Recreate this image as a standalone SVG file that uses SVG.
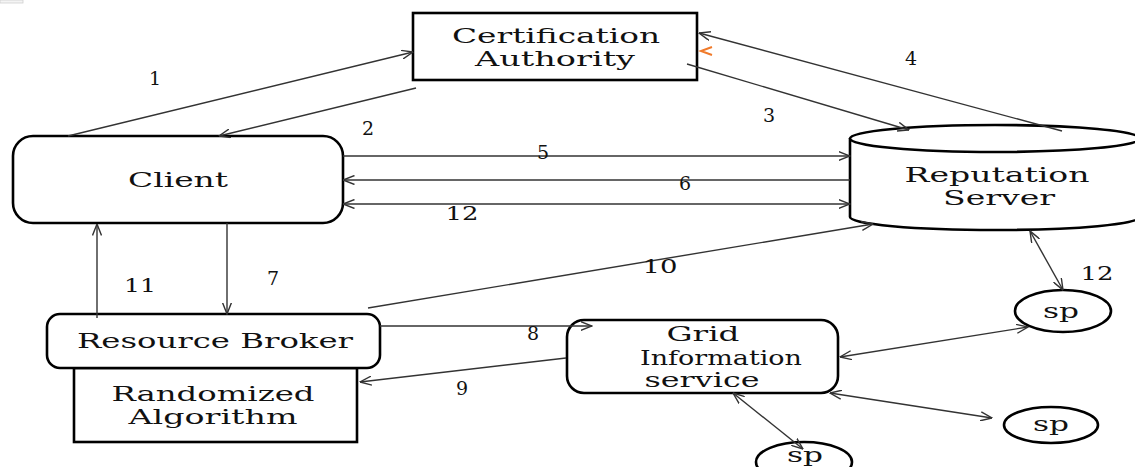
<svg xmlns="http://www.w3.org/2000/svg" width="1135" height="467" viewBox="0 0 1135 467">
  <style>
    .box { fill: #fff; stroke: #000; stroke-width: 2.6; }
    .lbl { font-family: "DejaVu Serif", "Liberation Serif", serif; font-size: 20px; fill: #111; text-anchor: middle; }
    .num { font-family: "DejaVu Serif", "Liberation Serif", serif; font-size: 19px; fill: #111; text-anchor: middle; }
    .conn line { stroke: #333; stroke-width: 1.4; fill: none; }
    .one { marker-end: url(#arr); }
    .two { marker-start: url(#arr); marker-end: url(#arr); }
  </style>
  <defs>
    <marker id="arr" viewBox="0 0 12 10" refX="11.5" refY="5" markerWidth="12" markerHeight="10" markerUnits="userSpaceOnUse" orient="auto-start-reverse">
      <path d="M0,0.5 L11.5,5 L0,9.5" fill="none" stroke="#333" stroke-width="1.4"/>
    </marker>
  </defs>
  <rect width="1135" height="467" fill="#fff"/>
  <!-- small grey tab in the corner -->
  <rect x="0" y="0" width="23" height="3" fill="#f4f4f4" stroke="#cfcfcf" stroke-width="0.8"/>

  <g id="ca">
    <rect class="box" x="413" y="13" width="284" height="67"/>
    <text class="lbl" x="556" y="43" textLength="208" lengthAdjust="spacingAndGlyphs">Certification</text>
    <text class="lbl" x="555" y="66" textLength="160" lengthAdjust="spacingAndGlyphs">Authority</text>
  </g>

  <g id="client">
    <rect class="box" x="13" y="136" width="330" height="87" rx="20" ry="20"/>
    <text class="lbl" x="178" y="187" textLength="100" lengthAdjust="spacingAndGlyphs">Client</text>
  </g>

  <g id="reputation">
    <path class="box" d="M850,138 L850,217 A145,13 0 0 0 1140,217 L1140,138"/>
    <ellipse class="box" cx="995" cy="138.5" rx="145" ry="13.5"/>
    <text class="lbl" x="997" y="182" textLength="185" lengthAdjust="spacingAndGlyphs">Reputation</text>
    <text class="lbl" x="999" y="205" textLength="112" lengthAdjust="spacingAndGlyphs">Server</text>
  </g>

  <g id="randomized">
    <rect class="box" x="74" y="368" width="283" height="74"/>
    <text class="lbl" x="213" y="401" textLength="203" lengthAdjust="spacingAndGlyphs">Randomized</text>
    <text class="lbl" x="213" y="424" textLength="169" lengthAdjust="spacingAndGlyphs">Algorithm</text>
  </g>

  <g id="broker">
    <rect class="box" x="47" y="314" width="333" height="54" rx="13" ry="13"/>
    <text class="lbl" x="215" y="348" textLength="276" lengthAdjust="spacingAndGlyphs">Resource Broker</text>
  </g>

  <g id="gis">
    <rect class="box" x="567" y="320" width="271" height="73" rx="17" ry="17"/>
    <text class="lbl" x="703" y="341" textLength="73" lengthAdjust="spacingAndGlyphs">Grid</text>
    <text class="lbl" x="721" y="365" textLength="162" lengthAdjust="spacingAndGlyphs">Information</text>
    <text class="lbl" x="702" y="387" textLength="115" lengthAdjust="spacingAndGlyphs">service</text>
  </g>

  <g id="sp1">
    <ellipse class="box" cx="1063" cy="311" rx="48" ry="21"/>
    <text class="lbl" x="1061" y="318" textLength="36" lengthAdjust="spacingAndGlyphs">sp</text>
  </g>
  <g id="sp2">
    <ellipse class="box" cx="1051" cy="425" rx="47" ry="18"/>
    <text class="lbl" x="1051" y="431" textLength="36" lengthAdjust="spacingAndGlyphs">sp</text>
  </g>
  <g id="sp3">
    <ellipse class="box" cx="804" cy="462" rx="48" ry="20"/>
    <text class="lbl" x="805" y="462" textLength="36" lengthAdjust="spacingAndGlyphs">sp</text>
  </g>

  <!-- connectors, drawn over the boxes -->
  <g id="connectors" class="conn">
    <line class="one" x1="68" y1="136" x2="413" y2="52"/>
    <line class="one" x1="416" y1="88" x2="219" y2="136"/>
    <line class="one" x1="687" y1="64" x2="909" y2="130"/>
    <line class="one" x1="1062" y1="131" x2="699" y2="33"/>
    <line class="one" x1="343" y1="156" x2="850" y2="156"/>
    <line class="one" x1="850" y1="180" x2="343" y2="180"/>
    <line class="two" x1="343" y1="204" x2="850" y2="204"/>
    <line class="one" x1="97" y1="318" x2="97" y2="224"/>
    <line class="one" x1="227" y1="223" x2="227" y2="314"/>
    <line class="one" x1="368" y1="308" x2="873" y2="224"/>
    <line class="one" x1="380" y1="326" x2="592" y2="326"/>
    <line class="one" x1="566" y1="358" x2="360" y2="382"/>
    <line class="two" x1="1030" y1="231" x2="1063" y2="290"/>
    <line class="two" x1="840" y1="357" x2="1028" y2="327"/>
    <line class="two" x1="830" y1="393" x2="992" y2="418"/>
    <line class="two" x1="733" y1="393" x2="803" y2="449"/>
    <!-- small orange chevron beside the authority box -->
    <path d="M712,47 L701,51 L712,55" fill="none" stroke="#f07a2a" stroke-width="2"/>
  </g>

  <!-- connector numbers -->
  <g id="numbers">
    <text class="num" x="155" y="85">1</text>
    <text class="num" x="368" y="135">2</text>
    <text class="num" x="769" y="122">3</text>
    <text class="num" x="911" y="65">4</text>
    <text class="num" x="543" y="159">5</text>
    <text class="num" x="685" y="190">6</text>
    <text class="num" x="462" y="220" textLength="33" lengthAdjust="spacingAndGlyphs">12</text>
    <text class="num" x="273" y="285">7</text>
    <text class="num" x="140" y="292" textLength="32" lengthAdjust="spacingAndGlyphs">11</text>
    <text class="num" x="660" y="273" textLength="35" lengthAdjust="spacingAndGlyphs">10</text>
    <text class="num" x="533" y="340">8</text>
    <text class="num" x="462" y="395">9</text>
    <text class="num" x="1097" y="280" textLength="33" lengthAdjust="spacingAndGlyphs">12</text>
  </g>
</svg>
